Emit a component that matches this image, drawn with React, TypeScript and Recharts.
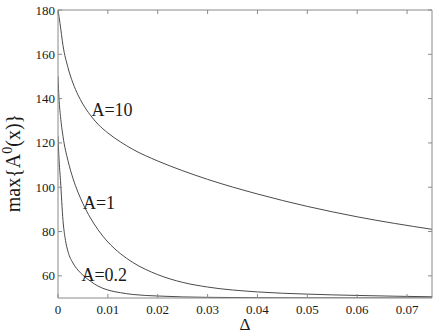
import React from "react";
import { LineChart, Line, XAxis, YAxis, ReferenceDot } from "recharts";

const xTicks = [0, 0.01, 0.02, 0.03, 0.04, 0.05, 0.06, 0.07];
const xTickLabels = ["0", "0.01", "0.02", "0.03", "0.04", "0.05", "0.06", "0.07"];
const yTicks = [60, 80, 100, 120, 140, 160, 180];

const deltaA10 = [0, 0.0004, 0.001, 0.002, 0.003, 0.004, 0.005, 0.0065, 0.008, 0.01, 0.0125, 0.015, 0.02, 0.025, 0.03, 0.04, 0.05, 0.06, 0.075];
const maxA10 = [180, 174, 164, 154, 147, 141.7, 137.5, 132.5, 128.5, 124.5, 120.5, 117.1, 111.85, 107.45, 103.55, 96.95, 91.35, 86.65, 81];

const deltaA1 = [0, 0.0002, 0.0005, 0.001, 0.002, 0.003, 0.004, 0.005, 0.0065, 0.008, 0.01, 0.0125, 0.015, 0.02, 0.025, 0.03, 0.04, 0.05, 0.06, 0.075];
const maxA1 = [150, 140, 132, 123, 112, 104, 97.8, 92.6, 86.15, 80.9, 75.3, 70.05, 66.05, 60.55, 57.05, 54.95, 52.75, 51.75, 51.15, 50.55];

const deltaA02 = [0, 0.0002, 0.0005, 0.001, 0.0015, 0.002, 0.003, 0.004, 0.005, 0.0065, 0.008, 0.01, 0.0125, 0.015, 0.02, 0.025, 0.03, 0.04, 0.05, 0.075];
const maxA02 = [123, 113, 103, 85, 76, 71, 65.8, 62.6, 60.3, 57.6, 55.4, 53.6, 52.4, 51.6, 50.9, 50.5, 50.3, 50.12, 50.05, 50];

const curveLabels = ["A=10", "A=1", "A=0.2"];
const labelX = [0.0067, 0.005, 0.0047];
const labelY = [135, 92.9, 60.4];

const zip = (xs: number[], ys: number[]) => xs.map((x, i) => ({ x, y: ys[i] }));
const seriesA10 = zip(deltaA10, maxA10);
const seriesA1 = zip(deltaA1, maxA1);
const seriesA02 = zip(deltaA02, maxA02);

const FONT = "'Liberation Serif', 'DejaVu Serif', serif";
const AXIS = "#8a8a8a";
const CURVE = "#4a4a4a";
const TXT = "#1a1a1a";

const BottomTick = (p: any) => {
  const i = xTicks.indexOf(p.payload.value);
  return (
    <g>
      <line x1={p.x} x2={p.x} y1={p.y} y2={p.y - 4} stroke={AXIS} />
      <text x={p.x} y={p.y + 16} textAnchor="middle" fontFamily={FONT} fontSize={13} fill={TXT}>
        {i >= 0 ? xTickLabels[i] : String(p.payload.value)}
      </text>
    </g>
  );
};
const TopTick = (p: any) => (
  <line x1={p.x} x2={p.x} y1={p.y} y2={p.y + 4} stroke={AXIS} />
);
const LeftTick = (p: any) => (
  <g>
    <line x1={p.x} x2={p.x + 4} y1={p.y} y2={p.y} stroke={AXIS} />
    <text x={p.x - 3} y={p.y + 4.5} textAnchor="end" fontFamily={FONT} fontSize={13} fill={TXT}>
      {p.payload.value}
    </text>
  </g>
);
const RightTick = (p: any) => (
  <line x1={p.x} x2={p.x - 4} y1={p.y} y2={p.y} stroke={AXIS} />
);

const makeLabel = (text: string) => (p: any) => (
  <text x={p.cx} y={p.cy} dominantBaseline="central" fontFamily={FONT} fontSize={18} fill={TXT}>
    {text}
  </text>
);

export default function App() {
  return (
    <div style={{ position: "absolute", left: 0, top: 0, background: "#fff" }}>
      <LineChart width={436} height={335} margin={{ top: 9, right: 3, bottom: 0, left: 0 }}>
        <XAxis
          dataKey="x"
          type="number"
          domain={[0, 0.075]}
          ticks={xTicks}
          allowDataOverflow
          height={37}
          stroke={AXIS}
          tickSize={0}
          tickMargin={0}
          tick={BottomTick}
          label={{
            content: (props: any) => {
              const vb = props.viewBox || { x: 58, y: 298, width: 374, height: 37 };
              return (
                <text x={vb.x + vb.width / 2} y={vb.y + 32} textAnchor="middle" fontFamily={FONT} fontSize={17} fill={TXT}>
                  Δ
                </text>
              );
            },
          }}
        />
        <XAxis
          xAxisId="top"
          orientation="top"
          dataKey="x"
          type="number"
          domain={[0, 0.075]}
          ticks={xTicks}
          allowDataOverflow
          height={1}
          stroke={AXIS}
          tickSize={0}
          tickMargin={0}
          tick={TopTick}
        />
        <YAxis
          type="number"
          domain={[50, 180]}
          ticks={yTicks}
          allowDataOverflow
          width={58}
          stroke={AXIS}
          tickSize={0}
          tickMargin={0}
          tick={LeftTick}
          label={{
            content: (props: any) => {
              const vb = props.viewBox || { x: 0, y: 10, width: 58, height: 288 };
              const cx = 20;
              const cy = vb.y + vb.height / 2 + 9;
              return (
                <text
                  x={cx}
                  y={cy}
                  transform={`rotate(-90 ${cx} ${cy})`}
                  textAnchor="middle"
                  fontFamily={FONT}
                  fontSize={20}
                  fill={TXT}
                >
                  max{"{"}A<tspan dy={-8} fontSize={14}>0</tspan>
                  <tspan dy={8}>(x){"}"}</tspan>
                </text>
              );
            },
          }}
        />
        <YAxis
          yAxisId="right"
          orientation="right"
          type="number"
          domain={[50, 180]}
          ticks={yTicks}
          allowDataOverflow
          width={1}
          stroke={AXIS}
          tickSize={0}
          tickMargin={0}
          tick={RightTick}
        />
        <Line data={seriesA10} dataKey="y" type="monotone" stroke={CURVE} strokeWidth={1} dot={false} isAnimationActive={false} />
        <Line data={seriesA1} dataKey="y" type="monotone" stroke={CURVE} strokeWidth={1} dot={false} isAnimationActive={false} />
        <Line data={seriesA02} dataKey="y" type="monotone" stroke={CURVE} strokeWidth={1} dot={false} isAnimationActive={false} />
        {curveLabels.map((t, i) => (
          <ReferenceDot key={t} x={labelX[i]} y={labelY[i]} r={0} shape={makeLabel(t)} />
        ))}
      </LineChart>
    </div>
  );
}
